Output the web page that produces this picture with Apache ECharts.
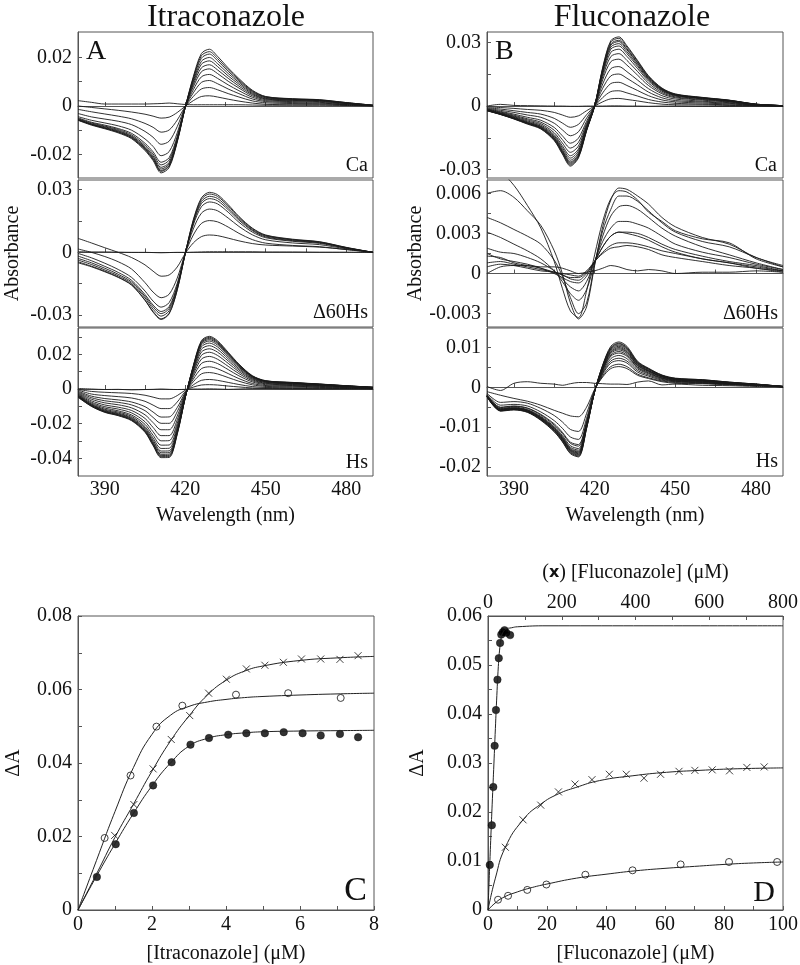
<!DOCTYPE html>
<html><head><meta charset="utf-8">
<script src="https://cdn.jsdelivr.net/npm/echarts@6/dist/echarts.min.js"></script>
<style>html,body{margin:0;padding:0;background:#fff}#c{width:800px;height:965px}</style>
</head><body><div id="c"></div>
<script>
// ---------- spectral data (absorbance difference, units of 1e-4) ----------
const wavelengths = [380,385,390,395,400,405,408,411,414,417,420,423,426,429,432,436,440,445,450,460,470,480,490];

const itraCa = [
 [-59,-79,-94,-111,-135,-184,-225,-276,-254,-149,-5,121,216,234,205,157,113,65,39,30,26,14,3],
 [-58,-77,-92,-108,-132,-180,-220,-270,-248,-146,-5,116,207,224,196,150,108,62,38,29,25,14,3],
 [-57,-76,-91,-107,-130,-177,-217,-266,-245,-144,-5,111,197,214,187,143,103,59,36,28,24,13,3],
 [-56,-75,-89,-104,-127,-173,-212,-260,-239,-141,-4,103,184,200,175,134,97,55,34,27,23,12,2],
 [-54,-73,-86,-101,-124,-168,-206,-253,-233,-137,-4,96,172,186,163,124,90,51,31,25,22,12,2],
 [-52,-70,-83,-97,-119,-162,-198,-243,-223,-131,-4,88,157,170,149,114,82,47,29,23,20,11,2],
 [-49,-67,-79,-93,-113,-154,-189,-232,-213,-125,-4,79,141,153,134,102,74,42,26,21,18,10,2],
 [-44,-59,-70,-82,-100,-136,-167,-205,-188,-111,-4,67,120,130,114,87,63,36,22,18,15,8,2],
 [-31,-45,-54,-63,-77,-105,-129,-158,-145,-85,-3,54,97,105,92,70,51,29,18,14,12,6,1],
 [-14,-24,-33,-42,-53,-72,-88,-108,-99,-58,-2,39,70,76,67,51,37,21,13,10,9,5,1],
 [0,-6,-12,-18,-25,-34,-42,-50,-46,-27,-1,22,39,42,37,28,20,12,7,5,5,3,1],
 [22,15,8,8,8,8,9,10,12,9,6,5,5,5,5,5,5,4,3,3,3,2,0]
];
const itraD60 = [
 [-50,-69,-93,-120,-157,-230,-286,-321,-294,-181,-5,156,260,287,276,228,172,116,83,63,51,24,0],
 [-45,-66,-90,-118,-155,-228,-283,-318,-291,-179,-5,152,253,279,268,222,167,113,81,61,50,23,0],
 [-37,-58,-84,-112,-149,-218,-272,-305,-279,-172,-5,146,243,268,258,213,161,108,78,59,48,22,0],
 [-29,-50,-76,-105,-142,-210,-261,-293,-268,-165,-5,140,233,257,247,204,154,104,74,56,46,21,0],
 [-18,-40,-67,-96,-134,-202,-252,-283,-259,-159,-5,131,218,241,232,192,144,97,70,53,43,20,0],
 [-5,-26,-52,-82,-120,-185,-233,-262,-240,-148,-4,112,187,207,199,164,124,84,60,45,37,17,0],
 [16,0,-20,-45,-80,-145,-190,-217,-200,-123,-4,83,138,152,146,121,91,61,44,33,27,13,0],
 [67,45,22,0,-25,-60,-90,-114,-108,-70,-5,45,75,83,80,68,55,42,35,30,25,14,0],
 [3,2,2,1,0,0,-1,-2,-1,0,0,1,2,3,3,3,3,3,2,2,1,1,0]
];
const itraHs = [
 [-48,-100,-135,-154,-183,-250,-327,-396,-395,-262,-50,135,279,304,279,212,144,77,48,38,29,19,10],
 [-46,-99,-133,-152,-180,-246,-322,-390,-389,-258,-49,132,273,298,273,208,141,75,47,37,28,19,10],
 [-44,-97,-131,-149,-178,-243,-317,-384,-383,-254,-49,130,268,292,268,204,138,74,46,36,28,18,10],
 [-42,-95,-129,-147,-174,-238,-312,-377,-376,-250,-48,127,262,285,262,199,135,72,45,36,27,18,9],
 [-40,-93,-126,-143,-170,-233,-304,-368,-367,-244,-47,123,254,277,254,193,131,70,44,35,26,17,9],
 [-38,-90,-122,-139,-165,-226,-295,-358,-357,-237,-45,118,243,265,243,185,126,67,42,33,25,17,9],
 [-36,-87,-117,-133,-158,-217,-283,-343,-342,-227,-43,111,229,250,229,174,118,63,39,31,24,16,8],
 [-33,-82,-110,-126,-150,-204,-267,-324,-323,-214,-41,103,213,232,213,162,110,59,37,29,22,14,8],
 [-30,-76,-102,-116,-138,-189,-247,-299,-298,-198,-38,94,194,212,194,148,100,54,33,26,20,13,7],
 [-26,-68,-92,-105,-124,-170,-222,-269,-269,-178,-34,83,172,188,172,131,89,48,30,23,18,12,6],
 [-22,-59,-80,-91,-109,-149,-194,-235,-235,-156,-30,71,147,160,147,112,76,41,25,20,15,10,5],
 [-17,-50,-68,-77,-92,-125,-164,-198,-198,-131,-25,57,117,128,117,89,60,32,20,16,12,8,4],
 [-12,-41,-55,-63,-75,-102,-133,-162,-161,-107,-20,42,87,95,87,66,45,24,15,12,9,6,3],
 [-6,-29,-38,-44,-52,-71,-93,-113,-113,-75,-14,24,50,55,50,38,26,14,9,7,5,3,2],
 [-2,-14,-19,-22,-26,-36,-47,-57,-57,-38,-7,11,23,25,23,17,12,6,4,3,2,2,1],
 [3,0,-3,-2,-5,-3,-2,0,-2,-3,-2,0,0,1,0,-2,0,2,2,0,0,0,0]
];
const fluCa = [
 [-22,-40,-61,-85,-108,-163,-226,-283,-244,-117,0,182,308,326,284,214,143,85,57,41,28,9,2],
 [-22,-39,-60,-83,-106,-160,-222,-278,-240,-115,0,178,302,319,278,210,140,83,56,40,27,9,2],
 [-21,-39,-59,-82,-104,-157,-218,-273,-235,-113,0,173,293,310,270,204,136,81,54,39,27,9,2],
 [-21,-38,-58,-80,-102,-154,-214,-268,-231,-111,0,170,287,304,265,200,133,79,53,38,26,8,2],
 [-20,-37,-57,-79,-100,-151,-210,-263,-227,-109,0,164,278,294,256,193,129,77,51,37,25,8,2],
 [-20,-36,-55,-77,-97,-147,-204,-255,-220,-105,0,158,268,283,247,186,124,74,50,36,24,8,2],
 [-19,-35,-53,-74,-94,-141,-196,-245,-211,-101,0,150,253,268,234,176,118,70,47,34,23,7,2],
 [-18,-33,-50,-70,-89,-135,-187,-234,-202,-96,0,138,233,247,215,162,108,64,43,31,21,7,2],
 [-17,-31,-47,-65,-83,-126,-174,-218,-188,-90,0,124,209,221,193,145,97,58,39,28,19,6,1],
 [-15,-28,-43,-60,-76,-114,-158,-198,-171,-82,0,104,176,186,162,122,82,49,33,23,16,5,1],
 [-14,-25,-38,-53,-67,-101,-140,-175,-151,-72,0,84,142,151,131,99,66,39,26,19,13,4,1],
 [-11,-20,-30,-42,-53,-81,-112,-140,-121,-57,0,62,106,112,97,73,49,29,20,14,10,3,1],
 [-8,-14,-22,-30,-38,-58,-80,-100,-86,-41,0,40,68,72,62,47,31,19,13,9,6,2,0],
 [-4,-7,-11,-16,-20,-30,-42,-53,-46,-22,0,20,34,36,31,24,16,9,6,5,3,1,0],
 [0,8,3,2,1,0,0,-1,-1,0,0,0,1,1,0,0,-1,0,0,-1,-1,0,0]
];
const fluD60 = [
 [78,76,66,51,34,9,-11,-28,-33,-13,14,39,56,62,61,55,46,39,32,26,23,11,5],
 [60,62,57,47,36,17,0,-22,-34,-25,6,35,55,64,63,58,52,42,35,27,22,12,6],
 [42,38,33,28,22,10,-2,-18,-30,-22,7,32,48,58,58,54,47,38,31,24,20,12,5],
 [31,27,22,17,11,2,-6,-15,-20,-12,8,28,43,50,51,48,42,34,28,20,14,8,3],
 [19,16,15,12,8,2,-4,-10,-13,-6,9,24,34,39,39,37,34,28,22,16,12,7,3],
 [15,11,9,7,4,0,-3,-6,-7,-2,9,20,28,31,31,30,27,22,18,13,9,6,2],
 [13,12,8,6,4,1,-1,-4,-5,0,9,16,21,23,23,22,20,17,15,11,8,5,2],
 [8,9,7,5,3,1,0,-1,-2,2,9,15,19,20,21,20,18,14,12,9,6,4,1],
 [5,7,6,4,2,1,-1,-3,-3,1,9,20,28,31,30,28,25,20,16,11,8,4,2],
 [0,5,6,6,5,5,4,2,0,1,2,4,6,5,3,2,3,2,0,1,1,2,1]
];
const fluHs = [
 [-24,-60,-57,-63,-83,-112,-137,-167,-175,-104,-11,56,103,114,103,65,48,31,23,19,13,8,2],
 [-24,-59,-56,-62,-82,-111,-136,-165,-173,-103,-11,55,100,111,100,63,47,30,22,19,13,8,2],
 [-23,-59,-56,-62,-81,-109,-134,-163,-171,-102,-11,54,98,109,98,62,46,30,22,18,12,8,2],
 [-23,-58,-55,-61,-80,-108,-132,-161,-169,-100,-11,52,96,106,96,60,45,29,21,18,12,7,2],
 [-23,-57,-54,-60,-79,-107,-131,-159,-167,-99,-11,51,93,103,93,59,43,28,21,17,12,7,2],
 [-22,-57,-54,-59,-78,-106,-129,-158,-165,-98,-10,49,90,100,90,57,42,27,20,17,11,7,2],
 [-22,-56,-53,-59,-77,-104,-128,-156,-163,-97,-10,48,88,97,88,55,41,26,20,16,11,7,2],
 [-22,-55,-52,-58,-76,-103,-126,-154,-161,-96,-10,46,85,94,85,54,40,26,19,16,11,7,2],
 [-22,-54,-52,-57,-75,-101,-124,-151,-158,-94,-10,44,81,90,81,51,38,24,18,15,10,6,2],
 [-21,-53,-50,-56,-73,-99,-121,-147,-154,-92,-10,42,78,86,78,49,36,23,17,14,10,6,2],
 [-20,-51,-48,-53,-70,-95,-116,-141,-148,-88,-9,39,72,80,72,46,34,22,16,13,9,6,1],
 [-20,-50,-47,-52,-68,-92,-113,-138,-144,-86,-9,36,66,73,66,42,31,20,15,12,8,5,1],
 [-18,-45,-43,-47,-62,-84,-103,-125,-131,-78,-8,33,61,67,61,38,28,18,14,11,8,5,1],
 [-15,-38,-36,-40,-53,-71,-87,-106,-111,-66,-7,29,52,58,52,33,24,16,12,10,7,4,1],
 [-11,-20,-28,-35,-45,-58,-65,-72,-74,-50,-5,26,47,52,47,30,22,14,10,9,6,4,1],
 [2,-8,10,14,10,8,5,9,12,12,10,9,8,8,7,13,16,6,8,5,4,2,1]
];

// ---------- axis ticks / labels ----------
const waveTicks = [390,405,420,435,450,465,480];
const waveLabels = [390,420,450,480];
const itraCaTicks = [-0.02,-0.01,0,0.01,0.02], itraCaLabels = [-0.02,0,0.02];
const itraD60Ticks = [-0.03,-0.015,0,0.015,0.03], itraD60Labels = [-0.03,0,0.03];
const itraHsTicks = [-0.04,-0.03,-0.02,-0.01,0,0.01,0.02,0.03], itraHsLabels = [-0.04,-0.02,0,0.02];
const fluCaTicks = [-0.03,-0.015,0,0.015,0.03], fluCaLabels = [-0.03,0,0.03];
const fluD60Ticks = [-0.003,-0.0015,0,0.0015,0.003,0.0045,0.006], fluD60Labels = [-0.003,0,0.003,0.006];
const fluHsTicks = [-0.02,-0.015,-0.01,-0.005,0,0.005,0.01], fluHsLabels = [-0.02,-0.01,0,0.01];

// ---------- binding data, panel C (itraconazole) ----------
const cOpenX = [0.72,1.42,2.12,2.82,4.27,5.68,7.1];
const cOpenY = [0.0196,0.0366,0.0499,0.0556,0.0586,0.059,0.0577];
const cCrossX = [0.99,1.51,2.03,2.52,3.02,3.53,4.01,4.55,5.05,5.55,6.04,6.56,7.08,7.57];
const cCrossY = [0.0203,0.0287,0.0384,0.0464,0.0529,0.059,0.0628,0.0656,0.0666,0.0674,0.0683,0.0683,0.0682,0.0692];
const cFillX = [0.51,1.02,1.51,2.03,2.53,3.04,3.54,4.06,4.55,5.05,5.56,6.07,6.56,7.08,7.57];
const cFillY = [0.009,0.0179,0.0264,0.0339,0.0402,0.045,0.0468,0.0477,0.0481,0.0481,0.0484,0.0481,0.0475,0.0479,0.047];
const cFitX = [0,0.5,1,1.5,2,2.5,3,3.5,4,4.5,5,6,7,8];
const cFitOpen = [0,0.0135,0.0268,0.0388,0.0478,0.053,0.0554,0.0566,0.0573,0.0578,0.0581,0.0585,0.0588,0.059];
const cFitCross = [0,0.0098,0.0198,0.0288,0.0378,0.046,0.0528,0.0585,0.0625,0.065,0.0664,0.0679,0.0686,0.069];
const cFitFill = [0,0.0092,0.018,0.0263,0.0338,0.04,0.0446,0.0467,0.0477,0.0482,0.0485,0.0487,0.0488,0.0489];

// ---------- binding data, panel D (fluconazole) ----------
const dFillX = [0.6,1.3,1.8,2.25,2.7,3.2,3.65,4.1,4.5,5.0,5.6,6.2,7.5];
const dFillY = [0.0092,0.0173,0.0251,0.0335,0.0408,0.047,0.0514,0.0545,0.0562,0.0567,0.0571,0.0566,0.0561];
const dFitFillX = [0,0.5,1,1.5,2,2.5,3,3.5,4,4.5,5,6,8,10,20,100];
const dFitFillY = [0,0.0078,0.0155,0.0228,0.0298,0.037,0.0438,0.0497,0.0535,0.0556,0.0566,0.0573,0.0576,0.0578,0.058,0.058];
const dCrossX = [47,95,143,191,236,282,329,375,423,468,518,561,608,655,702,749];
const dCrossY = [0.0128,0.0184,0.0214,0.0241,0.0257,0.0266,0.0277,0.0277,0.0269,0.0277,0.0283,0.0285,0.0286,0.0284,0.0291,0.0292];
const dFitCrossX = [0,20,47,95,143,191,238,302,393,484,575,665,800];
const dFitCrossY = [0,0.0065,0.0128,0.0184,0.0216,0.0237,0.025,0.0264,0.0274,0.0281,0.0285,0.0288,0.029];
const dOpenX = [3.4,6.8,13.3,19.8,33,49,65.3,81.7,98];
const dOpenY = [0.0021,0.0029,0.0041,0.0052,0.0072,0.0081,0.0093,0.0098,0.0098];
const dFitOpenX = [0,2,5,10,15,20,30,40,50,60,70,80,90,100];
const dFitOpenY = [0,0.0012,0.0025,0.0037,0.0046,0.0053,0.0065,0.0073,0.008,0.0085,0.0089,0.0093,0.0096,0.0098];
const cTicksX = [0,1,2,3,4,5,6,7,8], cLabelsX = [0,2,4,6,8];
const cTicksY = [0,0.01,0.02,0.03,0.04,0.05,0.06,0.07,0.08], cLabelsY = [0,0.02,0.04,0.06,0.08];
const dTicksX = [0,10,20,30,40,50,60,70,80,90,100], dLabelsX = [0,20,40,60,80,100];
const dTicksTop = [0,100,200,300,400,500,600,700,800], dLabelsTop = [0,200,400,600,800];
const dTicksY = [0,0.005,0.01,0.015,0.02,0.025,0.03,0.035,0.04,0.045,0.05,0.055,0.06], dLabelsY = [0,0.01,0.02,0.03,0.04,0.05,0.06];

// ---------- chart ----------
const SERIF = "'Liberation Serif', 'Times New Roman', serif";
const INK = '#111', AX = '#555';
const fmt = v => v === 0 ? '0' : String(parseFloat(Number(v).toFixed(5)));

const panels = [
 {left:78, top:32, width:295, height:146, curves:itraCa, min:-0.0297, max:0.0305, ticks:itraCaTicks, labels:itraCaLabels},
 {left:78, top:180, width:295, height:147, curves:itraD60, min:-0.0357, max:0.0346, ticks:itraD60Ticks, labels:itraD60Labels, name:'Absorbance', gap:55},
 {left:78, top:328, width:295, height:148, curves:itraHs, min:-0.0502, max:0.0352, ticks:itraHsTicks, labels:itraHsLabels, bottom:true},
 {left:487, top:32, width:296, height:146, curves:fluCa, min:-0.0339, max:0.0349, ticks:fluCaTicks, labels:fluCaLabels},
 {left:487, top:180, width:296, height:147, curves:fluD60, min:-0.004, max:0.007, ticks:fluD60Ticks, labels:fluD60Labels, name:'Absorbance', gap:59},
 {left:487, top:328, width:296, height:148, curves:fluHs, min:-0.0223, max:0.0149, ticks:fluHsTicks, labels:fluHsLabels, bottom:true}
];

const grids = [], xAxes = [], yAxes = [], series = [];
const axisCommon = {
  axisLine:{show:true, lineStyle:{color:AX, width:1}},
  splitLine:{show:false},
};
panels.forEach((p, i) => {
  grids.push({left:p.left, top:p.top, width:p.width, height:p.height, show:true, borderColor:AX, borderWidth:1, backgroundColor:'transparent', containLabel:false, outerBoundsMode:'none'});
  xAxes.push(Object.assign({}, axisCommon, {
    type:'value', gridIndex:i, min:380, max:490, position:'bottom',
    axisTick:{show:true, inside:true, length:4, customValues:waveTicks, lineStyle:{color:AX}},
    axisLabel:{show:!!p.bottom, customValues:waveLabels, margin:4, fontSize:20, fontFamily:SERIF, color:INK, formatter:fmt},
    name: p.bottom ? 'Wavelength (nm)' : '', nameLocation:'middle', nameGap:30,
    nameTextStyle:{fontSize:20, fontFamily:SERIF, color:INK}
  }));
  yAxes.push(Object.assign({}, axisCommon, {
    type:'value', gridIndex:i, min:p.min, max:p.max,
    axisTick:{show:true, inside:true, length:4, customValues:p.ticks, lineStyle:{color:AX}},
    axisLabel:{customValues:p.labels, margin:6, fontSize:20, fontFamily:SERIF, color:INK, formatter:fmt},
    name: p.name || '', nameLocation:'middle', nameGap:p.gap || 50,
    nameTextStyle:{fontSize:20, fontFamily:SERIF, color:INK}
  }));
  p.curves.forEach(c => {
    series.push({
      type:'line', xAxisIndex:i, yAxisIndex:i, showSymbol:false, smooth:0.3, silent:true,
      data: wavelengths.map((w, k) => [w, c[k] / 10000]),
      lineStyle:{color:'#1a1a1a', width:0.9}
    });
  });
});

// panel C (grid 6)
grids.push({left:78, top:616, width:296, height:294, show:true, borderColor:AX, borderWidth:1, containLabel:false, outerBoundsMode:'none'});
xAxes.push(Object.assign({}, axisCommon, {
  type:'value', gridIndex:6, min:0, max:8,
  axisTick:{inside:true, length:4, customValues:cTicksX, lineStyle:{color:AX}},
  axisLabel:{customValues:cLabelsX, margin:5, fontSize:20, fontFamily:SERIF, color:INK, formatter:fmt},
  name:'[Itraconazole] (μM)', nameLocation:'middle', nameGap:34, nameTextStyle:{fontSize:20, fontFamily:SERIF, color:INK}
}));
yAxes.push(Object.assign({}, axisCommon, {
  type:'value', gridIndex:6, min:0, max:0.08,
  axisTick:{inside:true, length:4, customValues:cTicksY, lineStyle:{color:AX}},
  axisLabel:{customValues:cLabelsY, margin:6, fontSize:20, fontFamily:SERIF, color:INK, formatter:fmt},
  name:'ΔA', nameLocation:'middle', nameGap:54, nameTextStyle:{fontSize:20, fontFamily:SERIF, color:INK}
}));
// panel D (grid 7)
grids.push({left:488, top:616, width:295, height:294, show:true, borderColor:AX, borderWidth:1, containLabel:false, outerBoundsMode:'none'});
xAxes.push(Object.assign({}, axisCommon, {
  type:'value', gridIndex:7, min:0, max:100, position:'bottom',
  axisTick:{inside:true, length:4, customValues:dTicksX, lineStyle:{color:AX}},
  axisLabel:{customValues:dLabelsX, margin:5, fontSize:20, fontFamily:SERIF, color:INK, formatter:fmt},
  name:'[Fluconazole] (μM)', nameLocation:'middle', nameGap:34, nameTextStyle:{fontSize:20, fontFamily:SERIF, color:INK}
}));
xAxes.push(Object.assign({}, axisCommon, {
  type:'value', gridIndex:7, min:0, max:800, position:'top',
  axisTick:{inside:true, length:4, customValues:dTicksTop, lineStyle:{color:AX}},
  axisLabel:{customValues:dLabelsTop, margin:3, fontSize:20, fontFamily:SERIF, color:INK, formatter:fmt},
  name:'({x|x}) [Fluconazole] (μM)', nameLocation:'middle', nameGap:33,
  nameTextStyle:{fontSize:20, fontFamily:SERIF, color:INK, rich:{x:{fontFamily:"'DejaVu Sans', sans-serif", fontWeight:'bold', fontSize:16, color:INK}}}
}));
yAxes.push(Object.assign({}, axisCommon, {
  type:'value', gridIndex:7, min:0, max:0.06,
  axisTick:{inside:true, length:4, customValues:dTicksY, lineStyle:{color:AX}},
  axisLabel:{customValues:dLabelsY, margin:6, fontSize:20, fontFamily:SERIF, color:INK, formatter:fmt},
  name:'ΔA', nameLocation:'middle', nameGap:60, nameTextStyle:{fontSize:20, fontFamily:SERIF, color:INK}
}));

const zip = (xs, ys) => xs.map((x, k) => [x, ys[k]]);
const fitLine = (xi, yi, xs, ys) => ({type:'line', xAxisIndex:xi, yAxisIndex:yi, showSymbol:false, smooth:0.5, silent:true, data:zip(xs, ys), lineStyle:{color:'#222', width:1}});
const openSym = {symbol:'circle', symbolSize:7, itemStyle:{color:'#fff', borderColor:'#111', borderWidth:1}};
const fillSym = {symbol:'circle', symbolSize:7.5, itemStyle:{color:'#000', borderColor:'#000', borderWidth:0.5}};
const crossSym = {symbol:'path://M0,0L10,10M10,0L0,10', symbolSize:7, itemStyle:{color:'none', borderColor:'#111', borderWidth:1}};

series.push(fitLine(6, 6, cFitX, cFitOpen));
series.push(fitLine(6, 6, cFitX, cFitCross));
series.push(fitLine(6, 6, cFitX, cFitFill));
series.push(Object.assign({type:'scatter', xAxisIndex:6, yAxisIndex:6, silent:true, data:zip(cOpenX, cOpenY)}, openSym));
series.push(Object.assign({type:'scatter', xAxisIndex:6, yAxisIndex:6, silent:true, data:zip(cCrossX, cCrossY)}, crossSym));
series.push(Object.assign({type:'scatter', xAxisIndex:6, yAxisIndex:6, silent:true, data:zip(cFillX, cFillY)}, fillSym));

series.push(fitLine(7, 7, dFitFillX, dFitFillY));
series.push(fitLine(8, 7, dFitCrossX, dFitCrossY));
series.push(fitLine(7, 7, dFitOpenX, dFitOpenY));
series.push(Object.assign({type:'scatter', xAxisIndex:7, yAxisIndex:7, silent:true, data:zip(dOpenX, dOpenY)}, openSym));
series.push(Object.assign({type:'scatter', xAxisIndex:8, yAxisIndex:7, silent:true, data:zip(dCrossX, dCrossY)}, crossSym));
series.push(Object.assign({type:'scatter', xAxisIndex:7, yAxisIndex:7, silent:true, data:zip(dFillX, dFillY)}, fillSym));

const txt = (text, x, y, size, align) => ({
  type:'text', x:x, y:y, silent:true,
  style:{text:text, fill:INK, font: size + "px 'Liberation Serif', serif", align:align, verticalAlign:'middle', textAlign:align, textVerticalAlign:'middle'}
});

const chart = echarts.init(document.getElementById('c'), null, {renderer:'canvas'});
chart.setOption({
  animation:false,
  backgroundColor:'#fff',
  grid:grids, xAxis:xAxes, yAxis:yAxes, series:series,
  graphic:[
    txt('Itraconazole', 226, 18, 32, 'center'),
    txt('Fluconazole', 632, 18, 32, 'center'),
    txt('A', 86, 52, 28, 'left'),
    txt('B', 495, 52, 28, 'left'),
    txt('Ca', 368, 166, 20, 'right'),
    txt('Ca', 777, 166, 20, 'right'),
    txt('Δ60Hs', 368, 313, 20, 'right'),
    txt('Δ60Hs', 778, 314, 20, 'right'),
    txt('Hs', 368, 463, 20, 'right'),
    txt('Hs', 778, 462, 20, 'right'),
    txt('C', 367, 891, 34, 'right'),
    txt('D', 775, 893, 30, 'right')
  ]
});
</script></body></html>
